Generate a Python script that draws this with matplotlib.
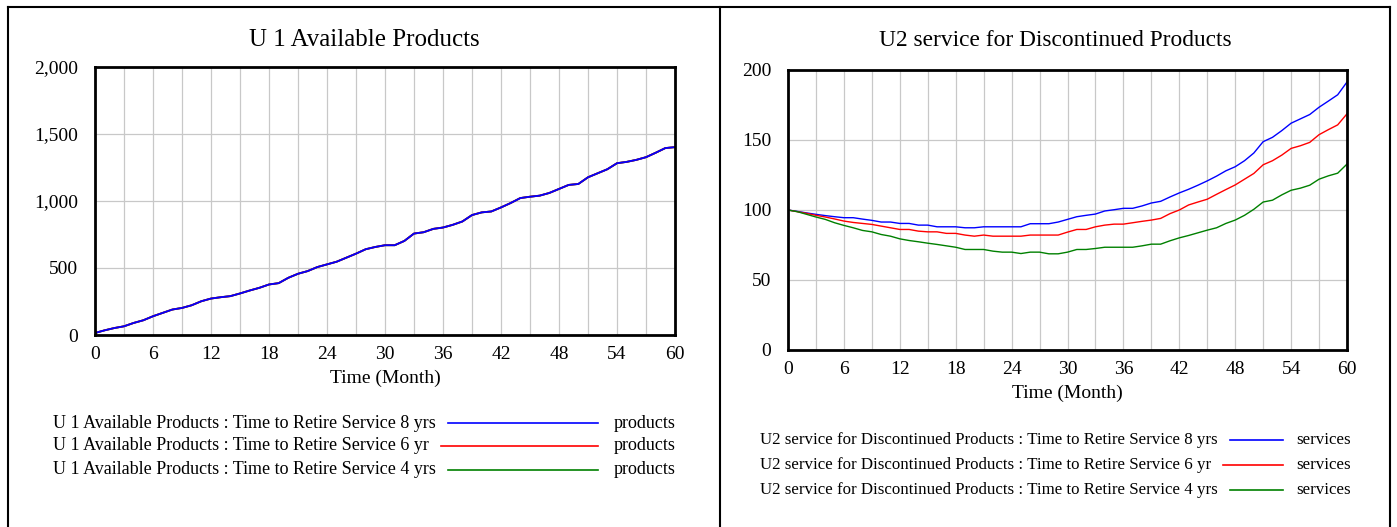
import numpy as np
import matplotlib
matplotlib.use("Agg")
import matplotlib.pyplot as plt
from matplotlib.lines import Line2D
from matplotlib.ticker import FuncFormatter

plt.rcParams['font.family'] = ['Liberation Serif', 'DejaVu Serif']

months = np.arange(0, 61)

# U 1 Available Products (all three runs overlap)
products_8yrs = [15, 35, 52, 65, 90, 110, 140, 165, 190, 202, 222, 252, 272, 282, 290, 310,
                 332, 352, 377, 387, 427, 457, 477, 507, 527, 547, 577, 607, 640, 657, 670,
                 670, 702, 757, 767, 792, 802, 822, 847, 895, 915, 922, 952, 985, 1022, 1032,
                 1040, 1060, 1090, 1120, 1127, 1177, 1207, 1237, 1282, 1292, 1307, 1327, 1360,
                 1395, 1402]
products_6yr = list(products_8yrs)
products_4yrs = list(products_8yrs)

# U2 service for Discontinued Products
services_8yrs = [100, 99.0, 97.9, 96.9, 96.0, 95.2, 94.5, 94.5, 93.5, 92.6, 91.4, 91.4, 90.4,
                 90.4, 89.2, 89.2, 88.0, 88.0, 88.0, 87.3, 87.3, 88.0, 88.0, 88.0, 88.0, 88.0,
                 90.2, 90.2, 90.2, 91.4, 93.3, 95.2, 96.2, 97.1, 99.3, 100.2, 101.2, 101.2,
                 102.9, 105.0, 106.2, 109.3, 112.2, 114.8, 117.7, 120.8, 124.2, 128.0, 130.9,
                 135.2, 140.7, 148.8, 151.9, 156.7, 162.0, 165.1, 168.2, 173.4, 177.8, 182.3,
                 191.4]
services_6yr = [100, 98.8, 97.6, 96.2, 95.0, 93.6, 92.1, 91.1, 90.4, 89.7, 88.5, 87.3, 86.1,
                86.1, 84.9, 84.4, 84.4, 83.3, 83.3, 82.1, 81.3, 82.1, 81.3, 81.3, 81.3, 81.3,
                82.1, 82.1, 82.1, 82.1, 84.2, 86.1, 86.1, 88.0, 89.2, 89.9, 89.9, 90.9, 91.9,
                92.8, 94.0, 97.4, 100.0, 103.6, 105.7, 107.7, 111.2, 114.6, 117.9, 122.0,
                126.1, 132.3, 135.2, 139.2, 144.0, 145.9, 148.3, 153.8, 157.4, 160.8, 168.7]
services_4yrs = [100, 98.8, 96.9, 95.0, 93.3, 90.9, 89.0, 87.3, 85.4, 84.4, 82.5, 81.3, 79.4,
                 78.2, 77.3, 76.3, 75.4, 74.4, 73.4, 71.8, 71.8, 71.8, 70.6, 69.9, 69.9, 68.9,
                 69.9, 69.9, 68.7, 68.7, 69.9, 71.8, 71.8, 72.5, 73.4, 73.4, 73.4, 73.4, 74.4,
                 75.6, 75.6, 78.0, 80.1, 81.8, 83.7, 85.6, 87.3, 90.4, 92.8, 96.2, 100.5,
                 105.7, 107.0, 110.8, 114.1, 115.6, 117.7, 122.0, 124.4, 126.3, 132.8]

run_labels = ["Time to Retire Service 8 yrs", "Time to Retire Service 6 yr",
              "Time to Retire Service 4 yrs"]
colors = ["#0000ff", "#ff0000", "#008000"]

W, H = 1397, 527
fig = plt.figure(figsize=(W / 100, H / 100), dpi=100)

def fx(px):
    return px / W

def fy(py):
    return 1 - py / H

# panel borders
for seg in [((8, 8), (7, H)), ((720, 720), (7, H)), ((1390, 1390), (7, H)), ((8, 1390), (7, 7))]:
    fig.add_artist(Line2D([fx(seg[0][0]), fx(seg[0][1])], [fy(seg[1][0]), fy(seg[1][1])],
                          color="black", lw=1.5, transform=fig.transFigure))

def setup_axes(ax, ymax, ystep, title, title_x, title_size):
    ax.set_xlim(0, 60)
    ax.set_ylim(0, ymax)
    ax.set_xticks(np.arange(0, 61, 6))
    ax.set_xticks(np.arange(0, 61, 3), minor=True)
    ax.set_yticks(np.arange(0, ymax + 1, ystep))
    ax.yaxis.set_major_formatter(FuncFormatter(lambda v, p: "{:,.0f}".format(v)))
    ax.tick_params(which="both", length=0, labelsize=14)
    ax.tick_params(axis="x", pad=8)
    ax.tick_params(axis="y", pad=12)
    ax.grid(True, which="both", axis="x", color="#c8c8c8", lw=0.9)
    ax.grid(True, which="major", axis="y", color="#c8c8c8", lw=0.9)
    for s in ax.spines.values():
        s.set_linewidth(2)
    ax.set_xlabel("Time (Month)", fontsize=14, labelpad=5)
    fig.text(fx(title_x), fy(40), title, ha="center", va="center", fontsize=title_size)

ax1 = fig.add_axes([fx(95), fy(335), fx(675 - 95), (335 - 67) / H])
ax2 = fig.add_axes([fx(788), fy(350), fx(1347 - 788), (350 - 70) / H])

for vals, c in zip([products_4yrs, products_6yr, products_8yrs], colors[::-1]):
    ax1.plot(months, vals, color=c, lw=1.3)
for vals, c in zip([services_8yrs, services_6yr, services_4yrs], colors):
    ax2.plot(months, vals, color=c, lw=1.0)

setup_axes(ax1, 2000, 500, "U 1 Available Products", 364, 18)
setup_axes(ax2, 200, 50, "U2 service for Discontinued Products", 1055, 16.8)

# legends
fig.canvas.draw()
renderer = fig.canvas.get_renderer()

def legend(var_name, unit, x_text, rows_y, line_end, unit_x, fontsize):
    for lab, c, yy in zip(run_labels, colors, rows_y):
        t = fig.text(fx(x_text), fy(yy), var_name + " : " + lab, ha="left", va="center",
                     fontsize=fontsize)
        bb = t.get_window_extent(renderer)
        x_start = bb.x1 + 12
        fig.add_artist(Line2D([x_start / W, fx(line_end)], [fy(yy), fy(yy)], color=c, lw=1.2,
                              transform=fig.transFigure))
        fig.text(fx(unit_x), fy(yy), unit, ha="left", va="center", fontsize=fontsize)

legend("U 1 Available Products", "products", 53, [423, 446, 470], 598, 614, 13)
legend("U2 service for Discontinued Products", "services", 760, [440, 465, 490], 1283, 1296, 12.2)

fig.savefig("out.png", dpi=100)
